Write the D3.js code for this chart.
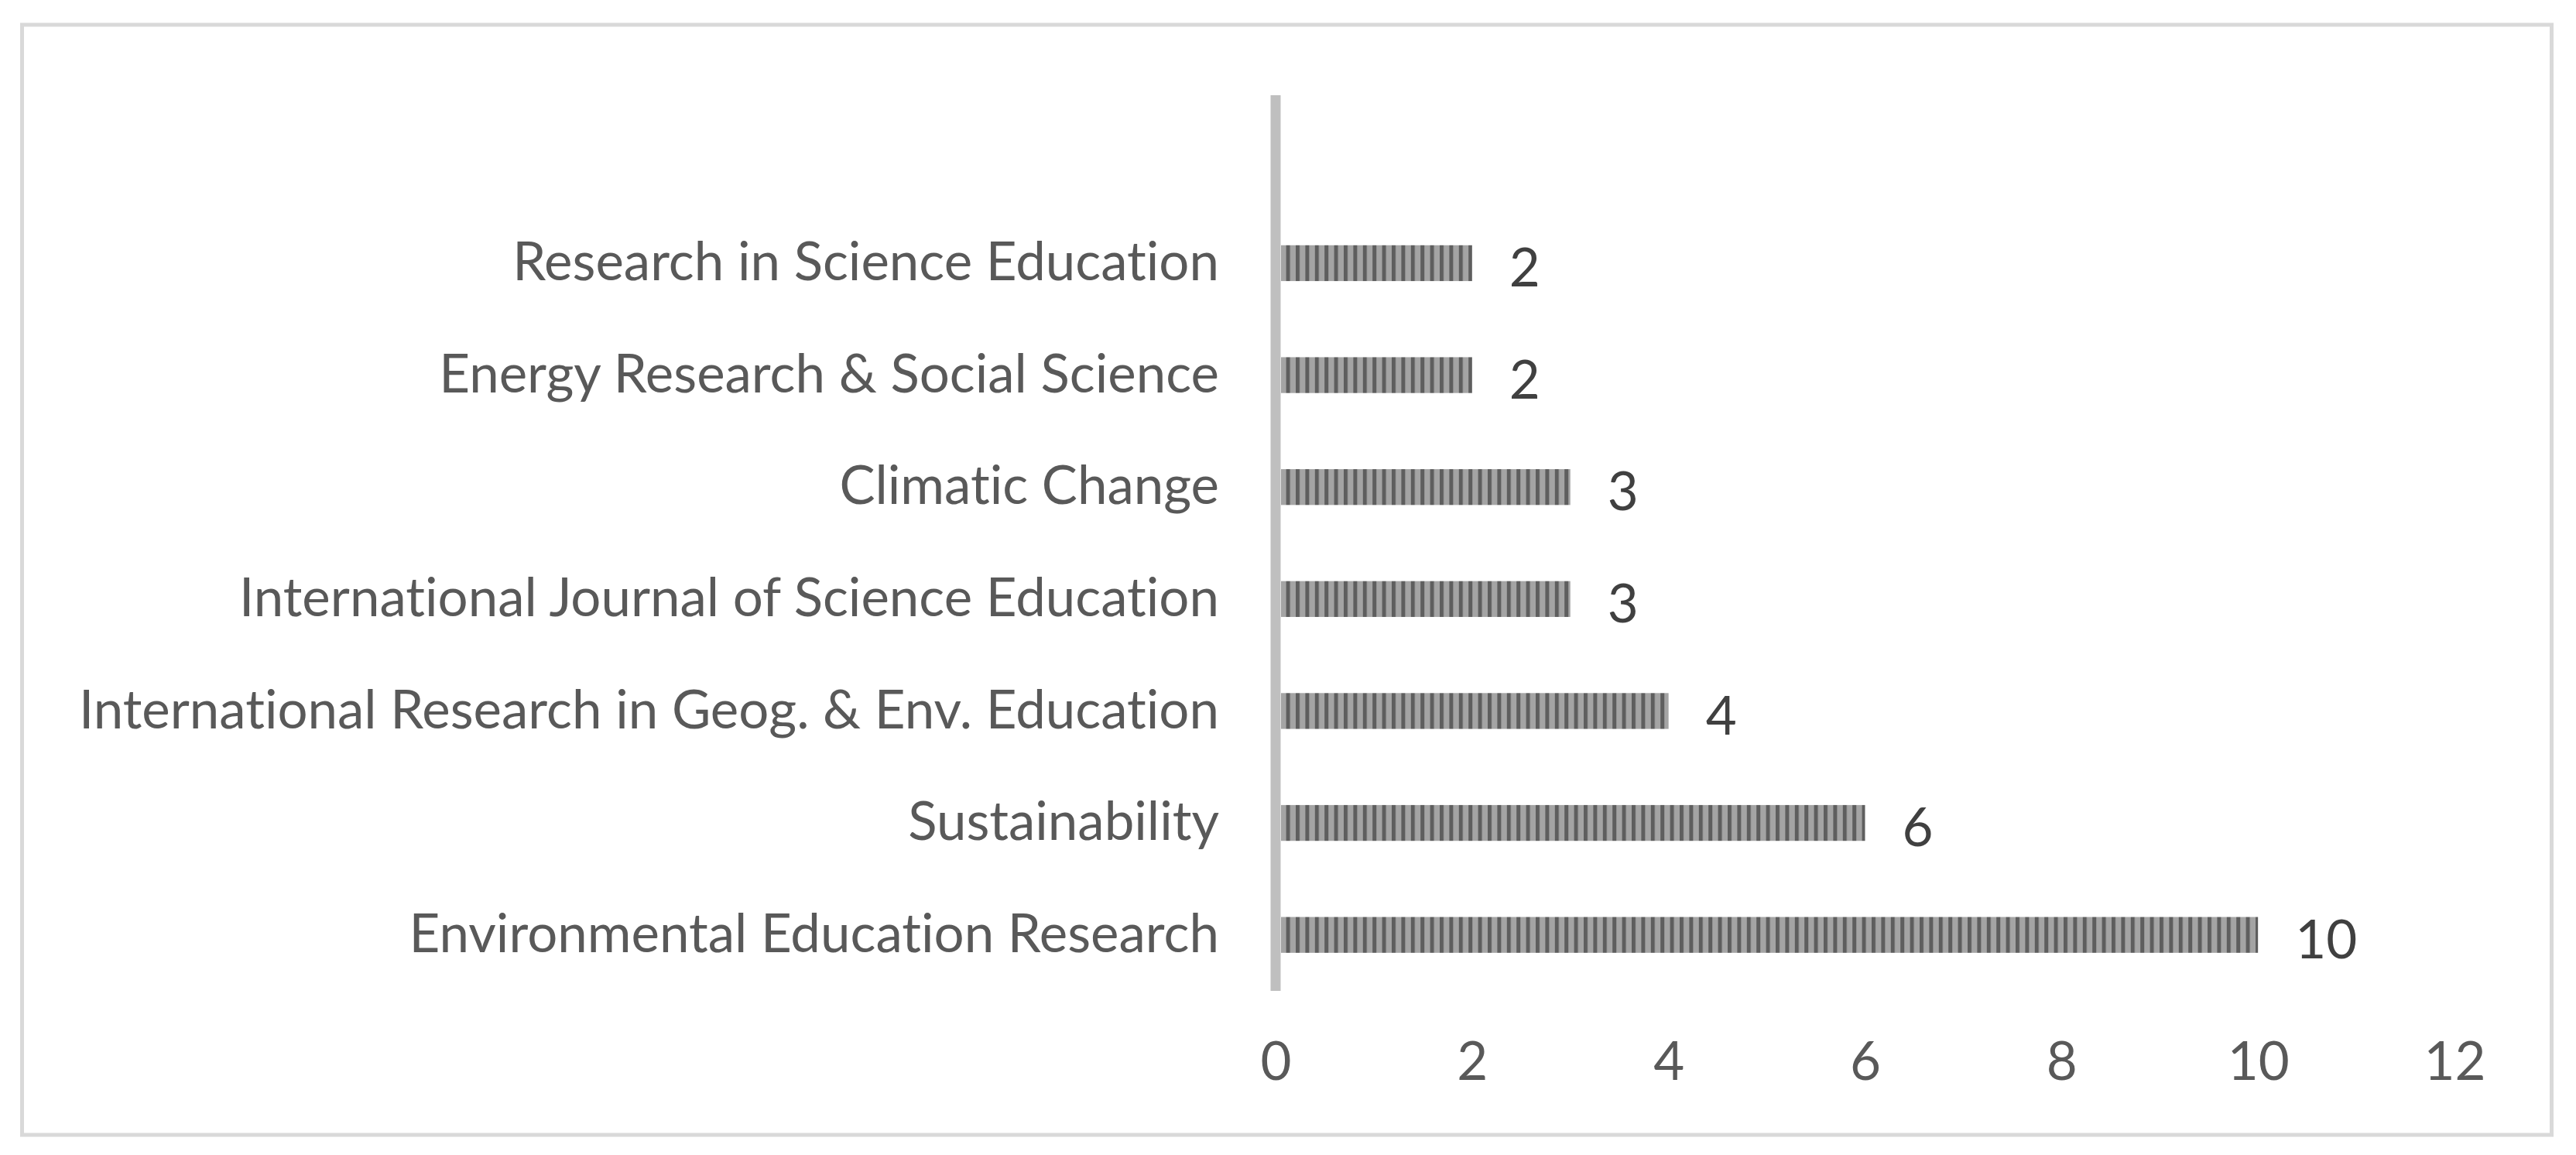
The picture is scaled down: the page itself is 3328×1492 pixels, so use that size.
<!DOCTYPE html>
<html>
<head>
<meta charset="utf-8">
<script src="https://cdn.jsdelivr.net/npm/d3@7"></script>
<style>
  body { margin: 0; background: #fff; }
  text { font-family: Lato, "Open Sans", sans-serif; font-variant-ligatures: none; }
</style>
</head>
<body>
<div id="chart"></div>
<script>
// journals, top to bottom, with number of articles
const journals = [
    "Research in Science Education",
    "Energy Research & Social Science",
    "Climatic Change",
    "International Journal of Science Education",
    "International Research in Geog. & Env. Education",
    "Sustainability",
    "Environmental Education Research"
];
const articleCounts = [2, 2, 3, 3, 4, 6, 10];
const xTicks = [0, 2, 4, 6, 8, 10, 12];

const width = 3328;
const height = 1492;
const plot = { left: 1648, right: 3171, top: 123, bottom: 1280 };
const fontSize = 69;

const svg = d3.select("#chart")
    .append("svg")
    .attr("width", width)
    .attr("height", height);

// stripe pattern for the bars
const defs = svg.append("defs");
const pattern = defs.append("pattern")
    .attr("id", "stripes")
    .attr("patternUnits", "userSpaceOnUse")
    .attr("width", 12.4)
    .attr("height", 2000);
pattern.append("rect")
    .attr("width", 12.4).attr("height", 2000)
    .attr("fill", "#a4a4a4");
pattern.append("rect")
    .attr("width", 5).attr("height", 2000)
    .attr("fill", "#5e5e5e");

// outer frame
svg.append("rect")
    .attr("x", 28.5)
    .attr("y", 32)
    .attr("width", 3268)
    .attr("height", 1434)
    .attr("fill", "none")
    .attr("stroke", "#d9d9d9")
    .attr("stroke-width", 5);

const x = d3.scaleLinear()
    .domain([0, 12])
    .range([plot.left, plot.right]);

// 8 slots on the axis, the top one stays empty
const step = (plot.bottom - plot.top) / 8;
const y = d3.scaleBand()
    .domain(journals)
    .range([plot.top + step, plot.bottom])
    .paddingInner(0.68)
    .paddingOuter(0.34);

// bars
svg.selectAll(".bar")
    .data(journals)
    .enter()
    .append("rect")
    .attr("class", "bar")
    .attr("x", x(0) + 7)
    .attr("y", d => y(d))
    .attr("width", (d, i) => x(articleCounts[i]) - x(0) - 7)
    .attr("height", y.bandwidth())
    .attr("fill", "url(#stripes)");

// category labels
const yAxis = svg.append("g")
    .attr("transform", `translate(${plot.left - 73},0)`)
    .call(d3.axisLeft(y).tickSize(0).tickPadding(0));
yAxis.select(".domain").remove();
yAxis.selectAll("text")
    .attr("font-family", "Lato, 'Open Sans', sans-serif")
    .attr("font-size", fontSize)
    .attr("fill", "#595959");

// vertical axis line
svg.append("line")
    .attr("x1", x(0))
    .attr("x2", x(0))
    .attr("y1", plot.top)
    .attr("y2", plot.bottom)
    .attr("stroke", "#bfbfbf")
    .attr("stroke-width", 13);

// value axis labels
const xAxis = svg.append("g")
    .attr("transform", `translate(0,${plot.bottom})`)
    .call(d3.axisBottom(x).tickValues(xTicks).tickSize(0).tickPadding(66));
xAxis.select(".domain").remove();
xAxis.selectAll("text")
    .attr("font-family", "Lato, 'Open Sans', sans-serif")
    .attr("font-size", fontSize)
    .attr("fill", "#595959");

// data labels
svg.selectAll(".value-label")
    .data(journals)
    .enter()
    .append("text")
    .attr("class", "value-label")
    .attr("x", (d, i) => x(articleCounts[i]) + 48)
    .attr("y", d => y(d) + y.bandwidth() / 2 + 6)
    .attr("dy", "0.35em")
    .attr("font-size", fontSize)
    .attr("fill", "#404040")
    .text((d, i) => articleCounts[i]);
</script>
</body>
</html>
